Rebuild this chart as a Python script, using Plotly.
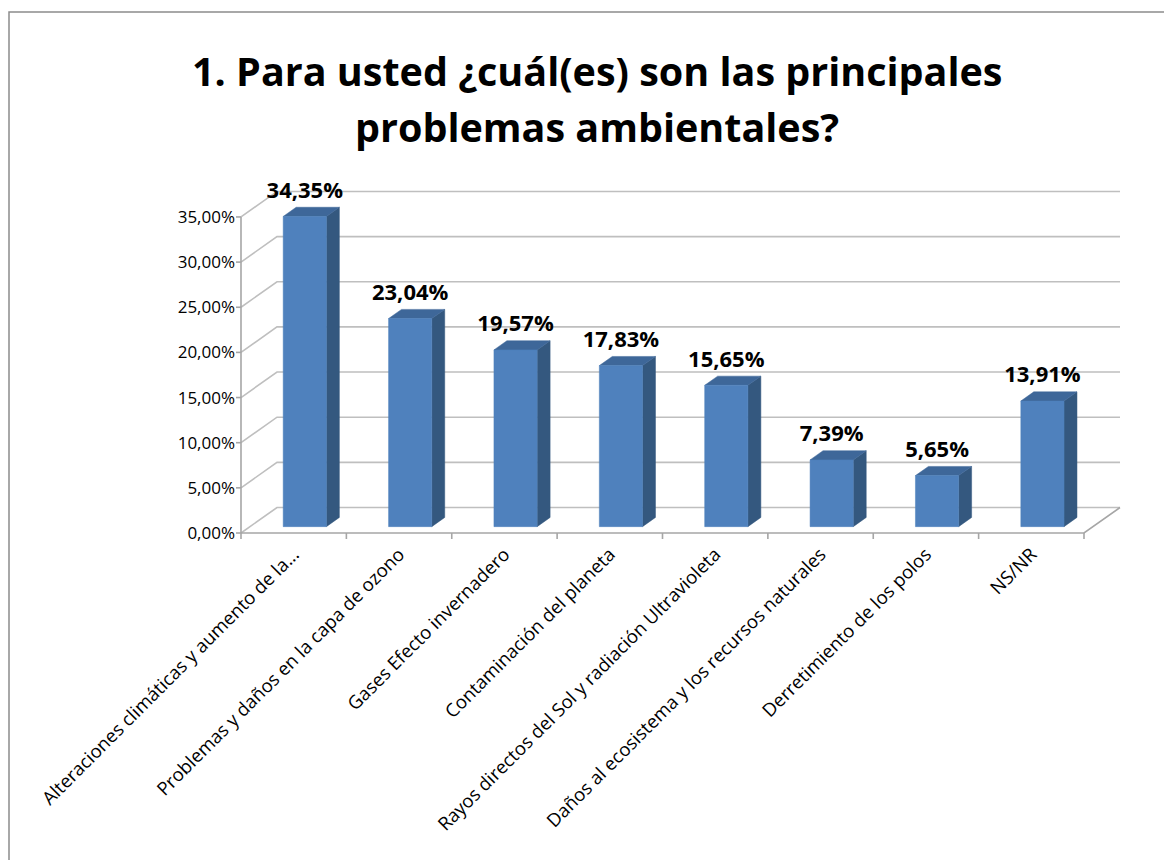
import plotly.graph_objects as go

categories = [
    "Alteraciones climáticas y aumento de la...",
    "Problemas y daños en la capa de ozono",
    "Gases Efecto invernadero",
    "Contaminación del planeta",
    "Rayos directos del Sol y radiación Ultravioleta",
    "Daños al ecosistema y los recursos naturales",
    "Derretimiento de los polos",
    "NS/NR",
]
values = [0.3435, 0.2304, 0.1957, 0.1783, 0.1565, 0.0739, 0.0565, 0.1391]
y_ticks = [0.0, 0.05, 0.10, 0.15, 0.20, 0.25, 0.30, 0.35]
title_lines = ["1. Para usted ¿cuál(es) son las principales", "problemas ambientales?"]

FONT = "Open Sans"
OFF = 8  # page body margin
W, H = 1172 - OFF, 860 - OFF
PX_PER_CAT = 105.375
PX_PER_UNIT = 903.0
X0_PX = 241 - OFF
Y0_PX = 533 - OFF
L = X0_PX - 5
R = W - (1126 - OFF)
T = 180 - OFF
B = H - (Y0_PX + 6)
x_range = [(L - X0_PX) / PX_PER_CAT, (W - R - X0_PX) / PX_PER_CAT]
y_range = [-(H - B - Y0_PX) / PX_PER_UNIT, (Y0_PX - T) / PX_PER_UNIT]

# depth of the 3D box in data units
DX = 36 / PX_PER_CAT
DY = 25.5 / PX_PER_UNIT
F0, FD = 0.25, 0.36
BAR_W = 0.41
BAR_OFF = 0.315
LABEL_PAD = 4 / PX_PER_UNIT
n = len(categories)
ymax = y_ticks[-1]

GRID = "#BFBFBF"
AXIS = "#A6A6A6"

fig = go.Figure()

# back wall gridlines + diagonals
gx, gy = [], []
for v in y_ticks:
    gx += [0, DX, n + DX, None]
    gy += [v, v + DY, v + DY, None]
fig.add_trace(go.Scatter(x=gx, y=gy, mode="lines", line=dict(color=GRID, width=1.6),
                         hoverinfo="skip", showlegend=False))
# floor right edge & front edge, y axis line
fig.add_trace(go.Scatter(x=[0, n, n + DX, None, 0, 0], y=[0, 0, DY, None, 0, ymax], mode="lines",
                         line=dict(color=AXIS, width=1.6), hoverinfo="skip", showlegend=False))
# tick marks
tx, ty = [], []
for i in range(n + 1):
    tx += [i, i, None]
    ty += [0, y_range[0], None]
for v in y_ticks:
    tx += [x_range[0], 0, None]
    ty += [v, v, None]
fig.add_trace(go.Scatter(x=tx, y=ty, mode="lines", line=dict(color=AXIS, width=1.6),
                         hoverinfo="skip", showlegend=False))

# 3D bars
fx, fy, sx, sy, ux, uy = [], [], [], [], [], []
lx, ly, lt = [], [], []
for i, v in enumerate(values):
    x0 = i + BAR_OFF + F0 * DX
    x1 = x0 + BAR_W
    yb = F0 * DY
    yt = v + F0 * DY
    ddx, ddy = FD * DX, FD * DY
    fx += [x0, x1, x1, x0, x0, None]
    fy += [yb, yb, yt, yt, yb, None]
    sx += [x1, x1 + ddx, x1 + ddx, x1, x1, None]
    sy += [yb, yb + ddy, yt + ddy, yt, yb, None]
    ux += [x0, x1, x1 + ddx, x0 + ddx, x0, None]
    uy += [yt, yt, yt + ddy, yt + ddy, yt, None]
    lx.append((x0 + x1) / 2)
    ly.append(yt + ddy + LABEL_PAD)
    lt.append(f"{v*100:.2f}%".replace(".", ","))

fig.add_trace(go.Scatter(x=sx, y=sy, fill="toself", fillcolor="#34587F", mode="lines",
                         line=dict(color="#34587F", width=0.5), hoverinfo="skip", showlegend=False))
fig.add_trace(go.Scatter(x=ux, y=uy, fill="toself", fillcolor="#3E6799", mode="lines",
                         line=dict(color="#3E6799", width=0.5), hoverinfo="skip", showlegend=False))
fig.add_trace(go.Scatter(x=fx, y=fy, fill="toself", fillcolor="#4F81BD", mode="lines",
                         line=dict(color="#4F81BD", width=0.5), hoverinfo="skip", showlegend=False))
fig.add_trace(go.Scatter(x=lx, y=ly, mode="text", text=lt, textposition="top center",
                         textfont=dict(family=FONT, size=22, color="black", weight="bold"),
                         cliponaxis=False, hoverinfo="skip", showlegend=False))

fig.update_xaxes(range=x_range, showgrid=False, zeroline=False, showline=False,
                 tickvals=[i + 0.5 for i in range(n)], ticktext=categories, tickangle=-45,
                 ticks="", tickfont=dict(family=FONT, size=18.5, color="black"))
fig.update_yaxes(range=y_range, showgrid=False, zeroline=False, showline=False,
                 tickvals=y_ticks, tickformat=".2%", ticks="",
                 tickfont=dict(family=FONT, size=17, color="black"))

pw = W - L - R
ph = H - T - B


def px_x(p):
    return (p - OFF - L) / pw


def px_y(p):
    return (H - B - (p - OFF)) / ph


annotations = []
for line, yy in zip(title_lines, [71, 127]):
    annotations.append(dict(text=line, xref="paper", yref="paper", x=px_x(597), y=px_y(yy),
                            xanchor="center", yanchor="middle", showarrow=False,
                            font=dict(family=FONT, size=39.5, color="black", weight="bold")))

fig.update_layout(
    width=W, height=H,
    margin=dict(l=L, r=R, t=T, b=B, autoexpand=False),
    paper_bgcolor="white", plot_bgcolor="white",
    separators=",.",
    annotations=annotations,
    shapes=[dict(type="rect", xref="paper", yref="paper", x0=px_x(9), x1=px_x(1200),
                 y0=px_y(900), y1=px_y(12), line=dict(color="#8C8C8C", width=1.5),
                 fillcolor="rgba(0,0,0,0)", layer="below")],
)

fig.write_html("out.html")
